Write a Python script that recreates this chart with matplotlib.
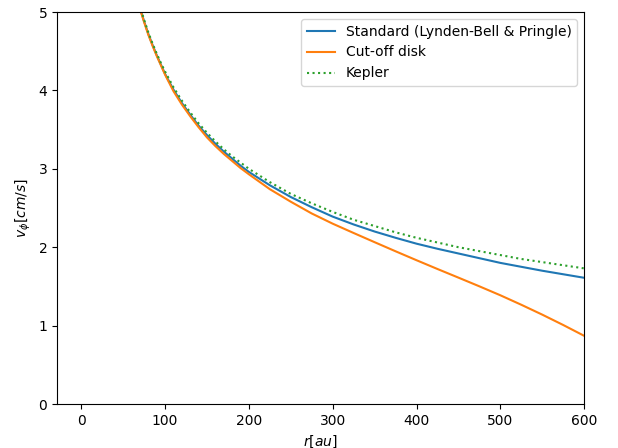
import matplotlib
matplotlib.use("Agg")
import matplotlib.pyplot as plt

# radius [au] and azimuthal velocity
r = [10, 20, 30, 40, 50, 60, 70, 75, 80, 85, 90, 95, 100, 110, 120, 130, 140,
     150, 160, 170, 180, 190, 200, 225, 250, 275, 300, 325, 350, 375, 400,
     425, 450, 475, 500, 525, 550, 575, 600]
v_kepler = [13.41, 9.48, 7.74, 6.70, 6.00, 5.47, 5.07, 4.90, 4.74, 4.60, 4.47,
            4.35, 4.24, 4.04, 3.87, 3.72, 3.58, 3.46, 3.35, 3.25, 3.16, 3.08,
            3.00, 2.83, 2.68, 2.56, 2.45, 2.35, 2.27, 2.19, 2.12, 2.06, 2.00,
            1.95, 1.90, 1.85, 1.81, 1.77, 1.73]
v_standard = [13.40, 9.47, 7.73, 6.69, 5.99, 5.46, 5.05, 4.88, 4.72, 4.58,
              4.45, 4.33, 4.21, 4.01, 3.84, 3.69, 3.55, 3.43, 3.32, 3.22, 3.13,
              3.04, 2.96, 2.79, 2.64, 2.51, 2.39, 2.29, 2.20, 2.12, 2.045, 1.98,
              1.92, 1.86, 1.80, 1.75, 1.70, 1.655, 1.61]
v_cutoff = [13.39, 9.46, 7.72, 6.68, 5.98, 5.45, 5.04, 4.87, 4.71, 4.57, 4.44,
            4.32, 4.20, 3.99, 3.82, 3.67, 3.53, 3.40, 3.29, 3.19, 3.10, 3.01,
            2.93, 2.74, 2.58, 2.43, 2.30, 2.181, 2.064, 1.948, 1.834, 1.722,
            1.612, 1.501, 1.387, 1.266, 1.140, 1.008, 0.87]

fig = plt.figure(figsize=(6.18, 4.48), dpi=100)
ax = fig.add_axes([0.0922, 0.0982, 0.853, 0.875])

ax.plot(r, v_standard, color="#1f77b4", lw=1.5, label="Standard (Lynden-Bell & Pringle)")
ax.plot(r, v_cutoff, color="#ff7f0e", lw=1.5, label="Cut-off disk")
ax.plot(r, v_kepler, color="#2ca02c", lw=1.5, ls=":", label="Kepler")

ax.set_xlim(-29, 600)
ax.set_ylim(0, 5)
ax.set_xlabel(r"$r[au]$")
ax.set_ylabel(r"$v_\phi[cm/s]$")
ax.legend(loc="upper right")

fig.savefig("out.png", dpi=100)
